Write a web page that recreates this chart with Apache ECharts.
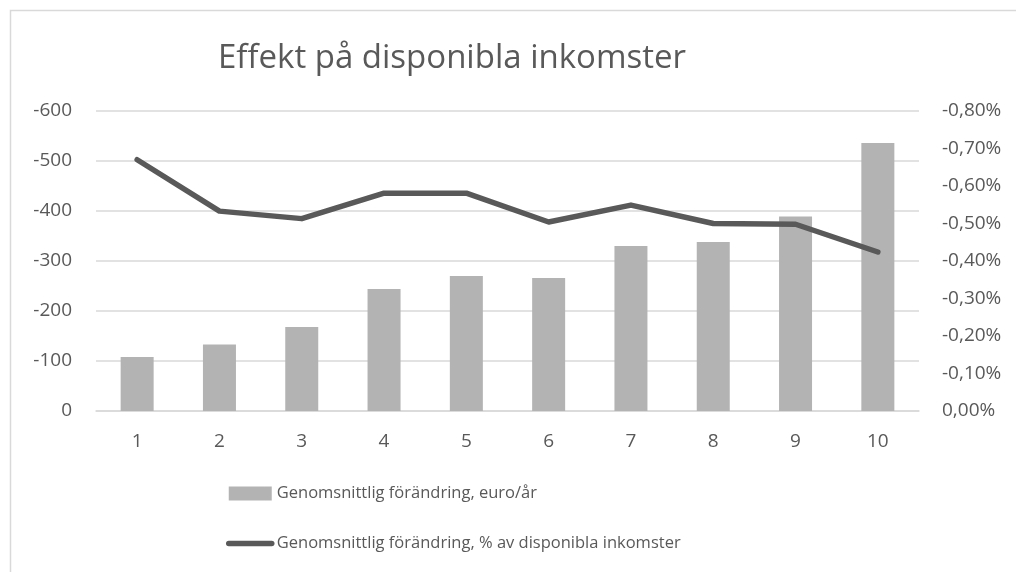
<!DOCTYPE html>
<html>
<head>
<meta charset="utf-8">
<script src="https://cdn.jsdelivr.net/npm/echarts@6/dist/echarts.min.js"></script>
<style>
  html, body { margin: 0; padding: 0; background: #fff; }
  #chart { width: 1016px; height: 572px; }
</style>
</head>
<body>
<div id="chart"></div>
<script>
const categories = ['1', '2', '3', '4', '5', '6', '7', '8', '9', '10']
// euro per year
const euroValues = [-108, -133, -168, -244, -270, -266, -330, -338, -389, -536]
// percent of disposable income
const pctValues = [-0.670, -0.533, -0.513, -0.581, -0.581, -0.504, -0.549, -0.500, -0.498, -0.424]
const seriesNames = ['Genomsnittlig förändring, euro/år', 'Genomsnittlig förändring, % av disponibla inkomster']

const font = '"Open Sans", Lato, sans-serif'
const textColor = '#595959'

const chart = echarts.init(document.getElementById('chart'))

const option = {
  animation: false,
  textStyle: { fontFamily: font, color: textColor },
  title: {
    text: 'Effekt på disponibla inkomster',
    left: 218,
    top: 42,
    padding: 0,
    textStyle: { fontFamily: font, fontSize: 33, fontWeight: 'normal', color: textColor },
  },
  graphic: [
    {
      type: 'rect',
      shape: { x: 10.5, y: 10.5, width: 1100, height: 700 },
      style: { fill: 'none', stroke: '#d9d9d9', lineWidth: 1.5 },
      silent: true,
    },
  ],
  grid: { left: 96, right: 97, top: 111, bottom: 161 },
  legend: {
    orient: 'vertical',
    left: 226,
    top: 485,
    padding: 0,
    itemGap: 33,
    itemWidth: 43,
    itemHeight: 14,
    textStyle: { fontFamily: font, fontSize: 16.5, color: textColor },
    data: [
      { name: seriesNames[0], icon: 'rect' },
      {
        name: seriesNames[1],
        itemStyle: { opacity: 0 },
        lineStyle: { width: 5.5, color: '#595959', cap: 'round' },
      },
    ],
  },
  xAxis: {
    type: 'category',
    data: categories,
    axisLine: { lineStyle: { color: '#d9d9d9', width: 1.5 } },
    axisTick: { show: false },
    axisLabel: { color: textColor, fontSize: 19, margin: 21 },
  },
  yAxis: [
    {
      type: 'value',
      min: -600,
      max: 0,
      interval: 100,
      inverse: true,
      axisLine: { show: false },
      axisTick: { show: false },
      splitLine: { lineStyle: { color: '#d9d9d9', width: 1.5 } },
      axisLabel: { color: textColor, fontSize: 19, margin: 24 },
    },
    {
      type: 'value',
      min: -0.8,
      max: 0,
      interval: 0.1,
      inverse: true,
      axisLine: { show: false },
      axisTick: { show: false },
      splitLine: { show: false },
      axisLabel: {
        color: textColor,
        fontSize: 19,
        margin: 23,
        formatter: (v) => Math.abs(v).toFixed(2) === '0.00' ? '0,00%' : v.toFixed(2).replace('.', ',') + '%',
      },
    },
  ],
  series: [
    {
      name: seriesNames[0],
      type: 'bar',
      data: euroValues,
      barWidth: 33,
      itemStyle: { color: '#b3b3b3' },
    },
    {
      name: seriesNames[1],
      type: 'line',
      yAxisIndex: 1,
      data: pctValues,
      symbol: 'none',
      lineStyle: { color: '#595959', width: 5.5, cap: 'round', join: 'round' },
      itemStyle: { color: '#595959' },
    },
  ],
}

chart.setOption(option)
</script>
</body>
</html>
